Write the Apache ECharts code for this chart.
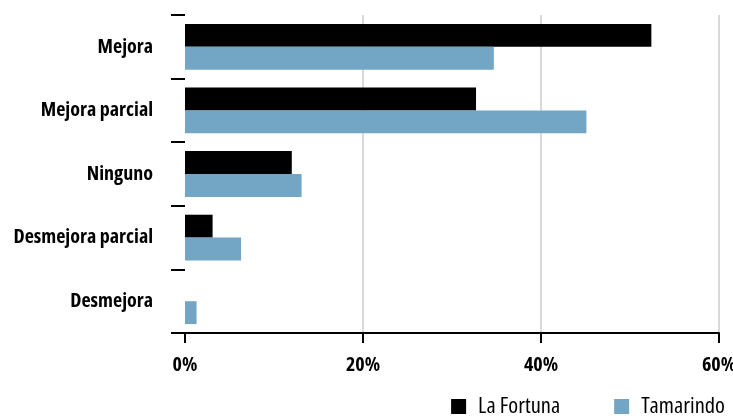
<!DOCTYPE html>
<html>
<head>
<meta charset="utf-8">
<script src="https://cdn.jsdelivr.net/npm/echarts@6/dist/echarts.min.js"></script>
<style>
  html, body { margin: 0; padding: 0; background: #fff; }
  #chart { width: 733px; height: 418px; }
</style>
</head>
<body>
<div id="chart"></div>
<script>
// Perceived change by category, share of responses (%)
const categories = ['Mejora', 'Mejora parcial', 'Ninguno', 'Desmejora parcial', 'Desmejora'];
const laFortuna = [52.4, 32.7, 12.0, 3.1, 0];
const tamarindo = [34.7, 45.1, 13.1, 6.3, 1.3];
const seriesNames = ['La Fortuna', 'Tamarindo'];
const xTicks = [0, 20, 40, 60];

const FONT = '"Open Sans", "Liberation Sans", sans-serif';

const chart = echarts.init(document.getElementById('chart'));
chart.setOption({
  animation: false,
  backgroundColor: '#ffffff',
  grid: {
    left: 185, right: 14, top: 15, bottom: 85,
    containLabel: false, outerBoundsMode: 'none'
  },
  legend: {
    data: seriesNames,
    right: 3,
    top: 390,
    itemWidth: 15,
    itemHeight: 15,
    itemGap: 54,
    icon: 'rect',
    textStyle: { fontFamily: FONT, fontStyle: 'condensed', fontSize: 22.5, color: '#000', padding: [0, 0, 0, 7] }
  },
  xAxis: {
    type: 'value',
    min: xTicks[0],
    max: xTicks[xTicks.length - 1],
    interval: 20,
    axisLine: { show: true, lineStyle: { color: '#000', width: 2 } },
    axisTick: { show: true, length: 10, lineStyle: { color: '#000', width: 2 } },
    axisLabel: {
      formatter: v => v + '%',
      fontFamily: FONT, fontStyle: 'condensed', fontWeight: 'bold', fontSize: 20, color: '#000', margin: 22
    },
    splitLine: { show: true, showMinLine: false, lineStyle: { color: '#d9d9d9', width: 2 } }
  },
  yAxis: {
    type: 'category',
    inverse: true,
    data: categories,
    axisLine: { show: false },
    axisTick: { show: true, length: 14, lineStyle: { color: '#000', width: 2 } },
    axisLabel: {
      fontFamily: FONT, fontStyle: 'condensed', fontWeight: 'bold', fontSize: 20, color: '#000', margin: 32
    }
  },
  series: [
    {
      name: seriesNames[0], type: 'bar', data: laFortuna,
      itemStyle: { color: '#000000' },
      barGap: '0%', barCategoryGap: '28%'
    },
    {
      name: seriesNames[1], type: 'bar', data: tamarindo,
      itemStyle: { color: '#72a6c4' },
      barGap: '0%', barCategoryGap: '28%'
    }
  ]
});
</script>
</body>
</html>
